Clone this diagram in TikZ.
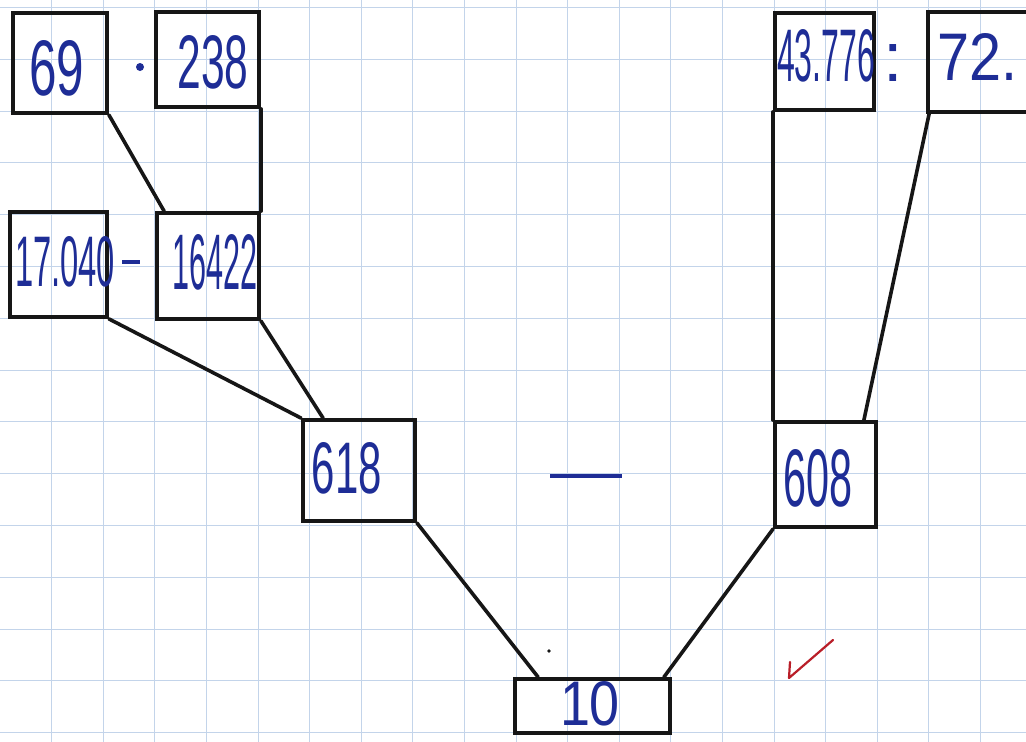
\documentclass[tikz,border=0pt]{standalone}
\usepackage{fontspec}
\usepackage{graphicx}
\setmainfont{Liberation Sans}
\usetikzlibrary{calc}
\definecolor{gridc}{RGB}{195,212,234}
\definecolor{ink}{RGB}{30,45,150}
\definecolor{pen}{RGB}{22,22,22}
\definecolor{checkred}{RGB}{185,30,40}
\newcommand{\hw}[3]{\resizebox{#1pt}{#2pt}{#3}}
\begin{document}
\begin{tikzpicture}[x=1pt,y=-1pt,
  box/.style={draw=pen,line width=3.8pt,inner sep=0pt,minimum width=#1},
  num/.style={text=ink,inner sep=0pt,anchor=center},
  link/.style={draw=pen,line width=3.6pt,line cap=round}]
\useasboundingbox (0,0) rectangle (1026,742);
\fill[white] (0,0) rectangle (1026,742);
% grid
\foreach \i in {1,...,19} \draw[gridc,line width=1pt] (\i*51.6,0) -- (\i*51.6,742);
\foreach \j in {0,...,14} \draw[gridc,line width=1pt] (0,7.5+\j*51.8) -- (1026,7.5+\j*51.8);
% boxes
\node[box=94pt,minimum height=100pt] (b69) at (60,63) {};
\node[box=103pt,minimum height=95pt] (b238) at (207.5,59.5) {};
\node[box=97pt,minimum height=105pt] (b17040) at (58.5,264.5) {};
\node[box=102pt,minimum height=106pt] (b16422) at (208,266) {};
\node[box=112pt,minimum height=101pt] (b618) at (359,470.5) {};
\node[box=101pt,minimum height=105pt] (b608) at (825.5,474.5) {};
\node[box=99pt,minimum height=97pt] (b43776) at (824.5,61.5) {};
\node[box=107pt,minimum height=100pt] (b72) at (981.5,62) {};
\node[box=155pt,minimum height=54pt] (b10) at (592.5,706) {};
% connectors
\draw[link] (b69.south east) -- ($(b16422.north west)+(9,0)$);
\draw[link] (b238.south east) -- (b16422.north east);
\draw[link] (b17040.south east) -- (b618.north west);
\draw[link] (b16422.south east) -- ($(b618.north west)+(22,0)$);
\draw[link] (b43776.south west) -- (b608.north west);
\draw[link] ($(b72.south west)+(3,0)$) -- ($(b608.north east)+(-14,0)$);
\draw[link] (b618.south east) -- ($(b10.north west)+(25,0)$);
\draw[link] (b608.south west) -- ($(b10.north east)+(-8,0)$);
% texts
\node[num] (t69) at (57,68) {\hw{55}{55}{69}};
\node[circle,fill=ink,inner sep=0pt,minimum size=8pt] (tdot) at (140,67) {};
\node[num] (t238) at (213,62) {\hw{71}{53}{238}};
\node[num] (t17040) at (65,262) {\hw{100}{50}{17.040}};
\node[num] (tminus) at (131,262) {\hw{18}{4}{\rule{10pt}{2pt}}};
\node[num] (t16422) at (215,262) {\hw{85}{55}{16422}};
\node[num] (t618) at (347,468) {\hw{70}{51}{618}};
\node[num] (tdash) at (586,476) {\hw{72}{4}{\rule{10pt}{2pt}}};
\node[num] (t608) at (818,478) {\hw{69}{57}{608}};
\node[num] (t43776) at (826,56) {\hw{98}{52}{43.776}};
\node[num] (tcolon) at (893,63) {\fontsize{70}{70}\selectfont :};
\node[num] (t72) at (977,57) {\hw{80}{47}{72.}};
\node[num] (t10) at (590,704) {\hw{60}{44}{10}};
% marks
\fill[pen] (549,651) circle (1.8);
\draw[checkred,line width=2.2pt,line cap=round,line join=round] (790,662) -- (789,678) -- (833,640);
\end{tikzpicture}
\end{document}
